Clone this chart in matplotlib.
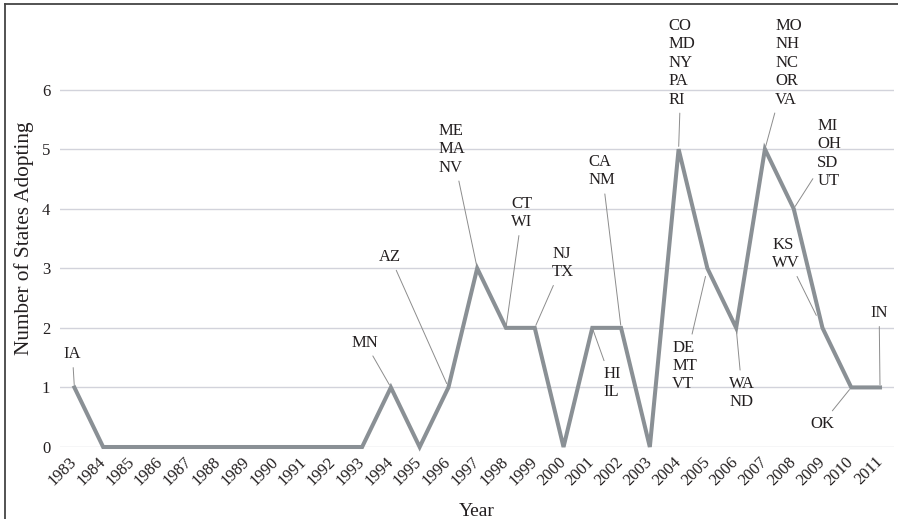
import numpy as np
import matplotlib
matplotlib.use("Agg")
import matplotlib.pyplot as plt
from matplotlib.lines import Line2D

# data
years = list(range(1983, 2012))
adopting = [1, 0, 0, 0, 0, 0, 0, 0, 0, 0, 0, 1, 0, 1, 3, 2, 2, 0, 2, 2, 0,
            5, 3, 2, 5, 4, 2, 1, 1]

label_years = [1983, 1994, 1996, 1997, 1998, 1999, 2001, 2002, 2004, 2005,
               2006, 2007, 2008, 2009, 2010, 2011]
label_states = ["IA", "MN", "AZ", "ME\nMA\nNV", "CT\nWI", "NJ\nTX", "HI\nIL",
                "CA\nNM", "CO\nMD\nNY\nPA\nRI", "DE\nMT\nVT", "WA\nND",
                "MO\nNH\nNC\nOR\nVA", "MI\nOH\nSD\nUT", "KS\nWV", "OK", "IN"]

# where the label text sits (x in year-index units, y in data units)
label_pos = [(-0.07, 1.56), (10.11, 1.75), (10.98, 3.19), (13.13, 5.00),
             (15.56, 3.93), (16.99, 3.09), (18.69, 1.07), (18.34, 4.63),
             (21.10, 6.45), (21.21, 1.36), (23.21, 0.91), (24.82, 6.45),
             (26.23, 4.93), (24.73, 3.24), (25.98, 0.39), (27.97, 2.25)]
shrink_end = [2, 2, 3, 2, 2, 2, 2, 2, 2, 6, 2, 2, 2, 10, 2, 2]

plt.rcParams['font.family'] = ['Liberation Serif', 'DejaVu Serif']
txt = '#231f20'

fig = plt.figure(figsize=(8.98, 5.19), dpi=100)
ax = fig.add_axes([60 / 898, 72 / 519, (894.4 - 60) / 898, 417 / 519])

x = np.arange(len(years))
ax.plot(x, adopting, color='#8a9095', lw=2.9, solid_joinstyle='miter',
        zorder=3, clip_on=False)

ax.set_xlim(-0.5, len(years) - 0.5)
ax.set_ylim(0, 7)
ax.set_yticks(range(0, 7))
ax.set_xticks(x)
ax.set_xticklabels([str(y) for y in years], rotation=45, ha='right',
                   va='center', rotation_mode='anchor', fontsize=12,
                   color=txt)
ax.tick_params(axis='x', length=0, pad=9)
ax.tick_params(axis='y', length=0, pad=7, labelsize=12, labelcolor=txt)
ax.grid(axis='y', color='#d2d3db', lw=1.0)
ax.set_axisbelow(True)
for s in ax.spines.values():
    s.set_visible(False)

ax.set_xlabel("Year", fontsize=14, color=txt, labelpad=10)
ax.set_ylabel("Number of States Adopting", fontsize=15.3, color=txt,
              labelpad=6)

for yr, st, (tx, ty), sb in zip(label_years, label_states, label_pos,
                                shrink_end):
    i = years.index(yr)
    ax.annotate(st, xy=(i, adopting[i]), xytext=(tx, ty), fontsize=12,
                color=txt, ha='center', va='center', multialignment='left',
                linespacing=1.2, annotation_clip=False,
                arrowprops=dict(arrowstyle='-', color='#8c8c8c', lw=0.7,
                                shrinkA=2, shrinkB=sb))

# frame around the figure (left and top edges visible)
fig.add_artist(Line2D([5 / 898, 5 / 898], [0, 1 - 4 / 519],
                      transform=fig.transFigure, color='#444444', lw=1.3))
fig.add_artist(Line2D([5 / 898, 1], [1 - 4 / 519, 1 - 4 / 519],
                      transform=fig.transFigure, color='#444444', lw=1.3))

fig.savefig("out.png", dpi=100)
